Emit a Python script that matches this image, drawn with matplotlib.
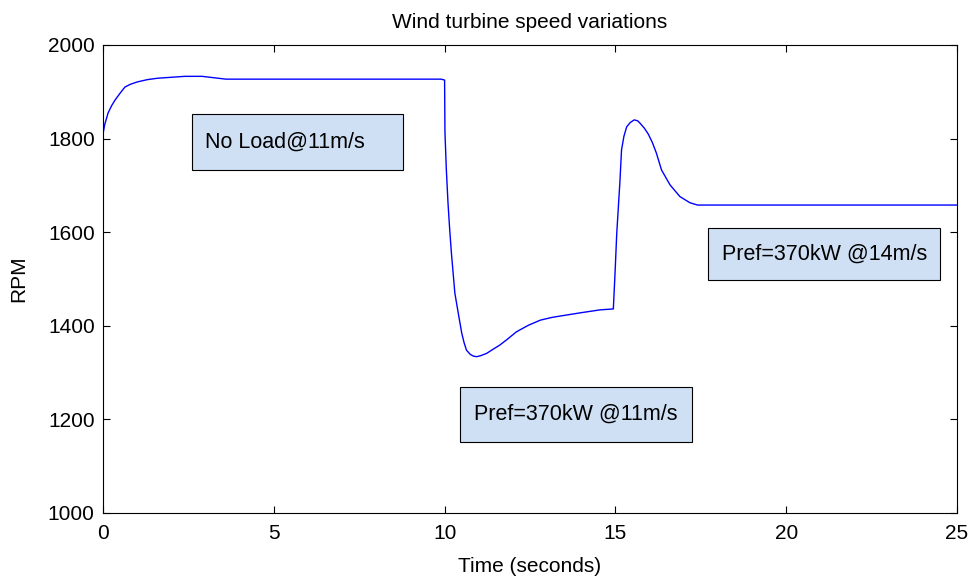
import matplotlib.pyplot as plt
from matplotlib.patches import Rectangle

plt.rcParams['font.family'] = ['Liberation Sans', 'DejaVu Sans']

# Turbine speed over time (seconds, RPM)
time_s = [0.0, 0.05, 0.15, 0.25, 0.35, 0.5, 0.64, 0.8, 1.0, 1.3,
          1.6, 2.0, 2.4, 2.9, 3.6, 9.9, 10.0, 10.01, 10.05, 10.1,
          10.15, 10.2, 10.3, 10.4, 10.5, 10.57, 10.64, 10.75, 10.85, 10.94,
          11.05, 11.23, 11.4, 11.62, 11.85, 12.1, 12.45, 12.8, 13.15, 13.57,
          14.0, 14.55, 14.94, 14.99, 15.04, 15.13, 15.18, 15.25, 15.33, 15.43,
          15.55, 15.65, 15.72, 15.85, 15.96, 16.08, 16.2, 16.35, 16.6, 16.89,
          17.18, 17.4, 25.0]
rpm = [1810, 1830, 1855, 1870, 1882, 1897, 1910, 1916, 1921, 1926,
       1929, 1931, 1933, 1933, 1927, 1927, 1925, 1815, 1735, 1662,
       1605, 1555, 1470, 1427, 1385, 1364, 1348, 1339, 1335, 1334,
       1336, 1341, 1349, 1359, 1372, 1387, 1401, 1412, 1418, 1423,
       1428, 1434, 1436, 1513, 1598, 1705, 1776, 1805, 1825, 1834,
       1840, 1838, 1833, 1822, 1810, 1792, 1769, 1733, 1701, 1676,
       1663, 1658, 1658]

# Annotation boxes: label, (x0, x1, y0, y1) in data units
notes = ['No Load@11m/s', 'Pref=370kW @14m/s', 'Pref=370kW @11m/s']
note_boxes = [(2.6, 8.78, 1733, 1853), (17.71, 24.5, 1498, 1609), (10.45, 17.24, 1152, 1269)]

fig = plt.figure(figsize=(9.69, 5.76), dpi=100)
ax = fig.add_axes([0.1063, 0.1094, 0.8813, 0.8125])

ax.plot(time_s, rpm, color='blue', linewidth=1.0)

for label, (x0, x1, y0, y1) in zip(notes, note_boxes):
    ax.add_patch(Rectangle((x0, y0), x1 - x0, y1 - y0, facecolor='#cfe0f5',
                           edgecolor='black', linewidth=0.8, zorder=3))
    ax.text(x0 + 0.4, (y0 + y1) / 2, label, fontsize=15.5, va='center', ha='left', zorder=4)

ax.set_xlim(0, 25)
ax.set_ylim(1000, 2000)
ax.set_xticks([0, 5, 10, 15, 20, 25])
ax.set_yticks([1000, 1200, 1400, 1600, 1800, 2000])
ax.tick_params(direction='in', top=True, right=True, labelsize=15, length=5, width=0.8)
ax.tick_params(axis='x', pad=8)
ax.tick_params(axis='y', pad=6)
for s in ax.spines.values():
    s.set_linewidth(0.8)

ax.set_xlabel('Time (seconds)', fontsize=15, labelpad=10)
ax.set_ylabel('RPM', fontsize=15, labelpad=14)
ax.set_title('Wind turbine speed variations', fontsize=15, pad=12)

fig.savefig('out.png', dpi=100)
